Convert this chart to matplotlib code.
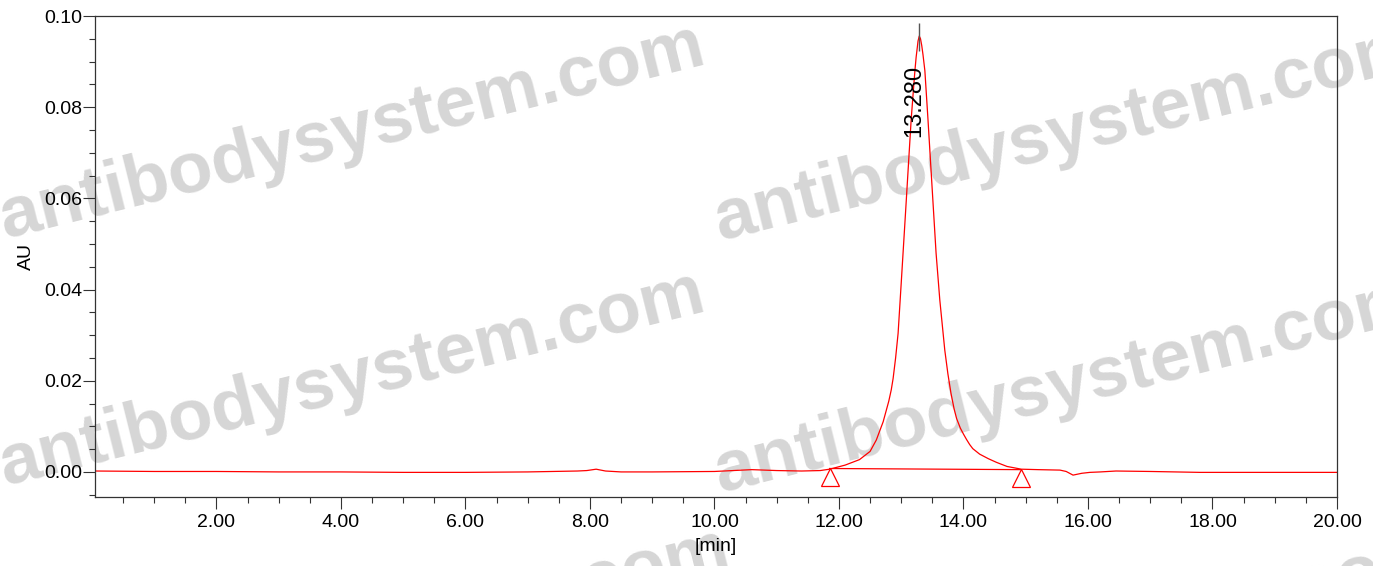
import matplotlib
matplotlib.use("Agg")
import matplotlib.pyplot as plt
import matplotlib.transforms as mtransforms
from matplotlib.ticker import MultipleLocator, FormatStrFormatter

plt.rcParams['font.family'] = ['Liberation Sans', 'DejaVu Sans']

# chromatogram trace (time in min, absorbance in AU)
temps = [0.05, 1.0, 2.0, 3.0, 4.0, 5.0, 6.0, 7.0, 7.8, 7.95, 8.1, 8.25, 8.5,
         9.0, 10.0, 10.3, 10.6, 11.0, 11.4, 11.7, 11.85, 12.1, 12.33, 12.5,
         12.6, 12.71, 12.75, 12.8, 12.84, 12.87, 12.91, 12.95, 13.0, 13.07,
         13.16, 13.20, 13.22, 13.24, 13.26, 13.27, 13.29, 13.31, 13.33, 13.35,
         13.38, 13.43, 13.52, 13.56, 13.62, 13.70, 13.75, 13.80, 13.85, 13.89,
         13.95, 14.0, 14.05, 14.1, 14.15, 14.26, 14.4, 14.53, 14.7, 14.93,
         15.2, 15.55, 15.65, 15.76, 15.9, 16.03, 16.2, 16.45, 17.0, 17.8,
         18.5, 19.3, 20.0]
absorb = [0.0002, 0.0001, 0.0001, 0.0, 0.0, -0.0001, -0.0001, 0.0, 0.0002,
          0.0003, 0.0006, 0.0002, 0.0, 0.0, 0.0001, 0.0003, 0.0005, 0.0003,
          0.0002, 0.0003, 0.0006, 0.0015, 0.0027, 0.0045, 0.0070, 0.0110,
          0.0130, 0.0155, 0.0180, 0.0205, 0.0250, 0.0304, 0.0414, 0.0570,
          0.0773, 0.0845, 0.0880, 0.0910, 0.0933, 0.0945, 0.0956, 0.0950,
          0.0935, 0.0915, 0.0880, 0.0773, 0.0570, 0.0480, 0.0377, 0.0267,
          0.0215, 0.0172, 0.0138, 0.0117, 0.0096, 0.0083, 0.0071, 0.0060,
          0.0051, 0.0039, 0.0029, 0.0021, 0.0012, 0.0006, 0.0005, 0.0004,
          0.0001, -0.0007, -0.0003, -0.0001, 0.0, 0.0002, 0.0001, -0.0001,
          -0.0001, -0.0001, -0.0001]

# integration of the peak
pic_rt = 13.280
pic_haut = 0.0956
debut_fin = [11.85, 14.93]
ligne_base = [0.00075, 0.0005]

filigrane = "antibodysystem.com"
# start of each watermark copy, in pixels from the top left corner
pos_filigrane = [(5, 238), (720, 240), (5, 485), (720, 492), (30, 742), (745, 748)]

W, H = 1373, 566
fig = plt.figure(figsize=(W / 100, H / 100), dpi=100)
ax = fig.add_axes([95 / W, 1 - 497 / H, (1337 - 95) / W, (497 - 16) / H])
ax.patch.set_alpha(0)

# watermark goes under the axes (ticks and curve drawn on top of it)
for (px, py) in pos_filigrane:
    fig.text(px / W, 1 - py / H, filigrane, fontsize=52.5, fontweight='bold',
             color='#d6d6d6', rotation=14, rotation_mode='anchor',
             ha='left', va='baseline', zorder=-1)

ax.plot(temps, absorb, color='#ff0000', lw=0.9)
ax.plot(debut_fin, ligne_base, color='#ff0000', lw=0.9)

# triangles hanging under the start and end of the peak
decal = mtransforms.offset_copy(ax.transData, fig=fig, x=0, y=-8.5, units='dots')
ax.plot(debut_fin, ligne_base, ls='none', marker='^', ms=13, mfc='none',
        mec='#ff0000', mew=0.9, transform=decal)

ax.vlines(pic_rt, pic_haut - 0.0033, pic_haut + 0.0028, color='#555555', lw=1)
ax.annotate("%.3f" % pic_rt, xy=(pic_rt, pic_haut), xytext=(-3, -21),
            textcoords='offset points', rotation=90, ha='center', va='top',
            fontsize=17)

ax.set_xlim(0.05, 20.0)
ax.set_ylim(-0.0055, 0.1)
ax.xaxis.set_major_locator(MultipleLocator(2))
ax.xaxis.set_minor_locator(MultipleLocator(0.5))
ax.yaxis.set_major_locator(MultipleLocator(0.02))
ax.yaxis.set_minor_locator(MultipleLocator(0.005))
ax.xaxis.set_major_formatter(FormatStrFormatter('%.2f'))
ax.yaxis.set_major_formatter(FormatStrFormatter('%.2f'))

ax.tick_params(which='major', length=8.6, width=0.8, color='#333333',
               labelsize=14)
ax.tick_params(which='minor', length=4.3, width=0.8, color='#333333')
ax.tick_params(axis='x', which='major', pad=3.5)
ax.tick_params(axis='y', which='major', pad=0.5)
for s in ax.spines.values():
    s.set_linewidth(0.9)
    s.set_color('#333333')

ax.set_xlabel("[min]", fontsize=14)
ax.set_ylabel("AU", fontsize=14)
ax.xaxis.set_label_coords(0.5, -0.085)
ax.yaxis.set_label_coords(-0.0483, 0.5)

fig.savefig("out.png", dpi=100)
